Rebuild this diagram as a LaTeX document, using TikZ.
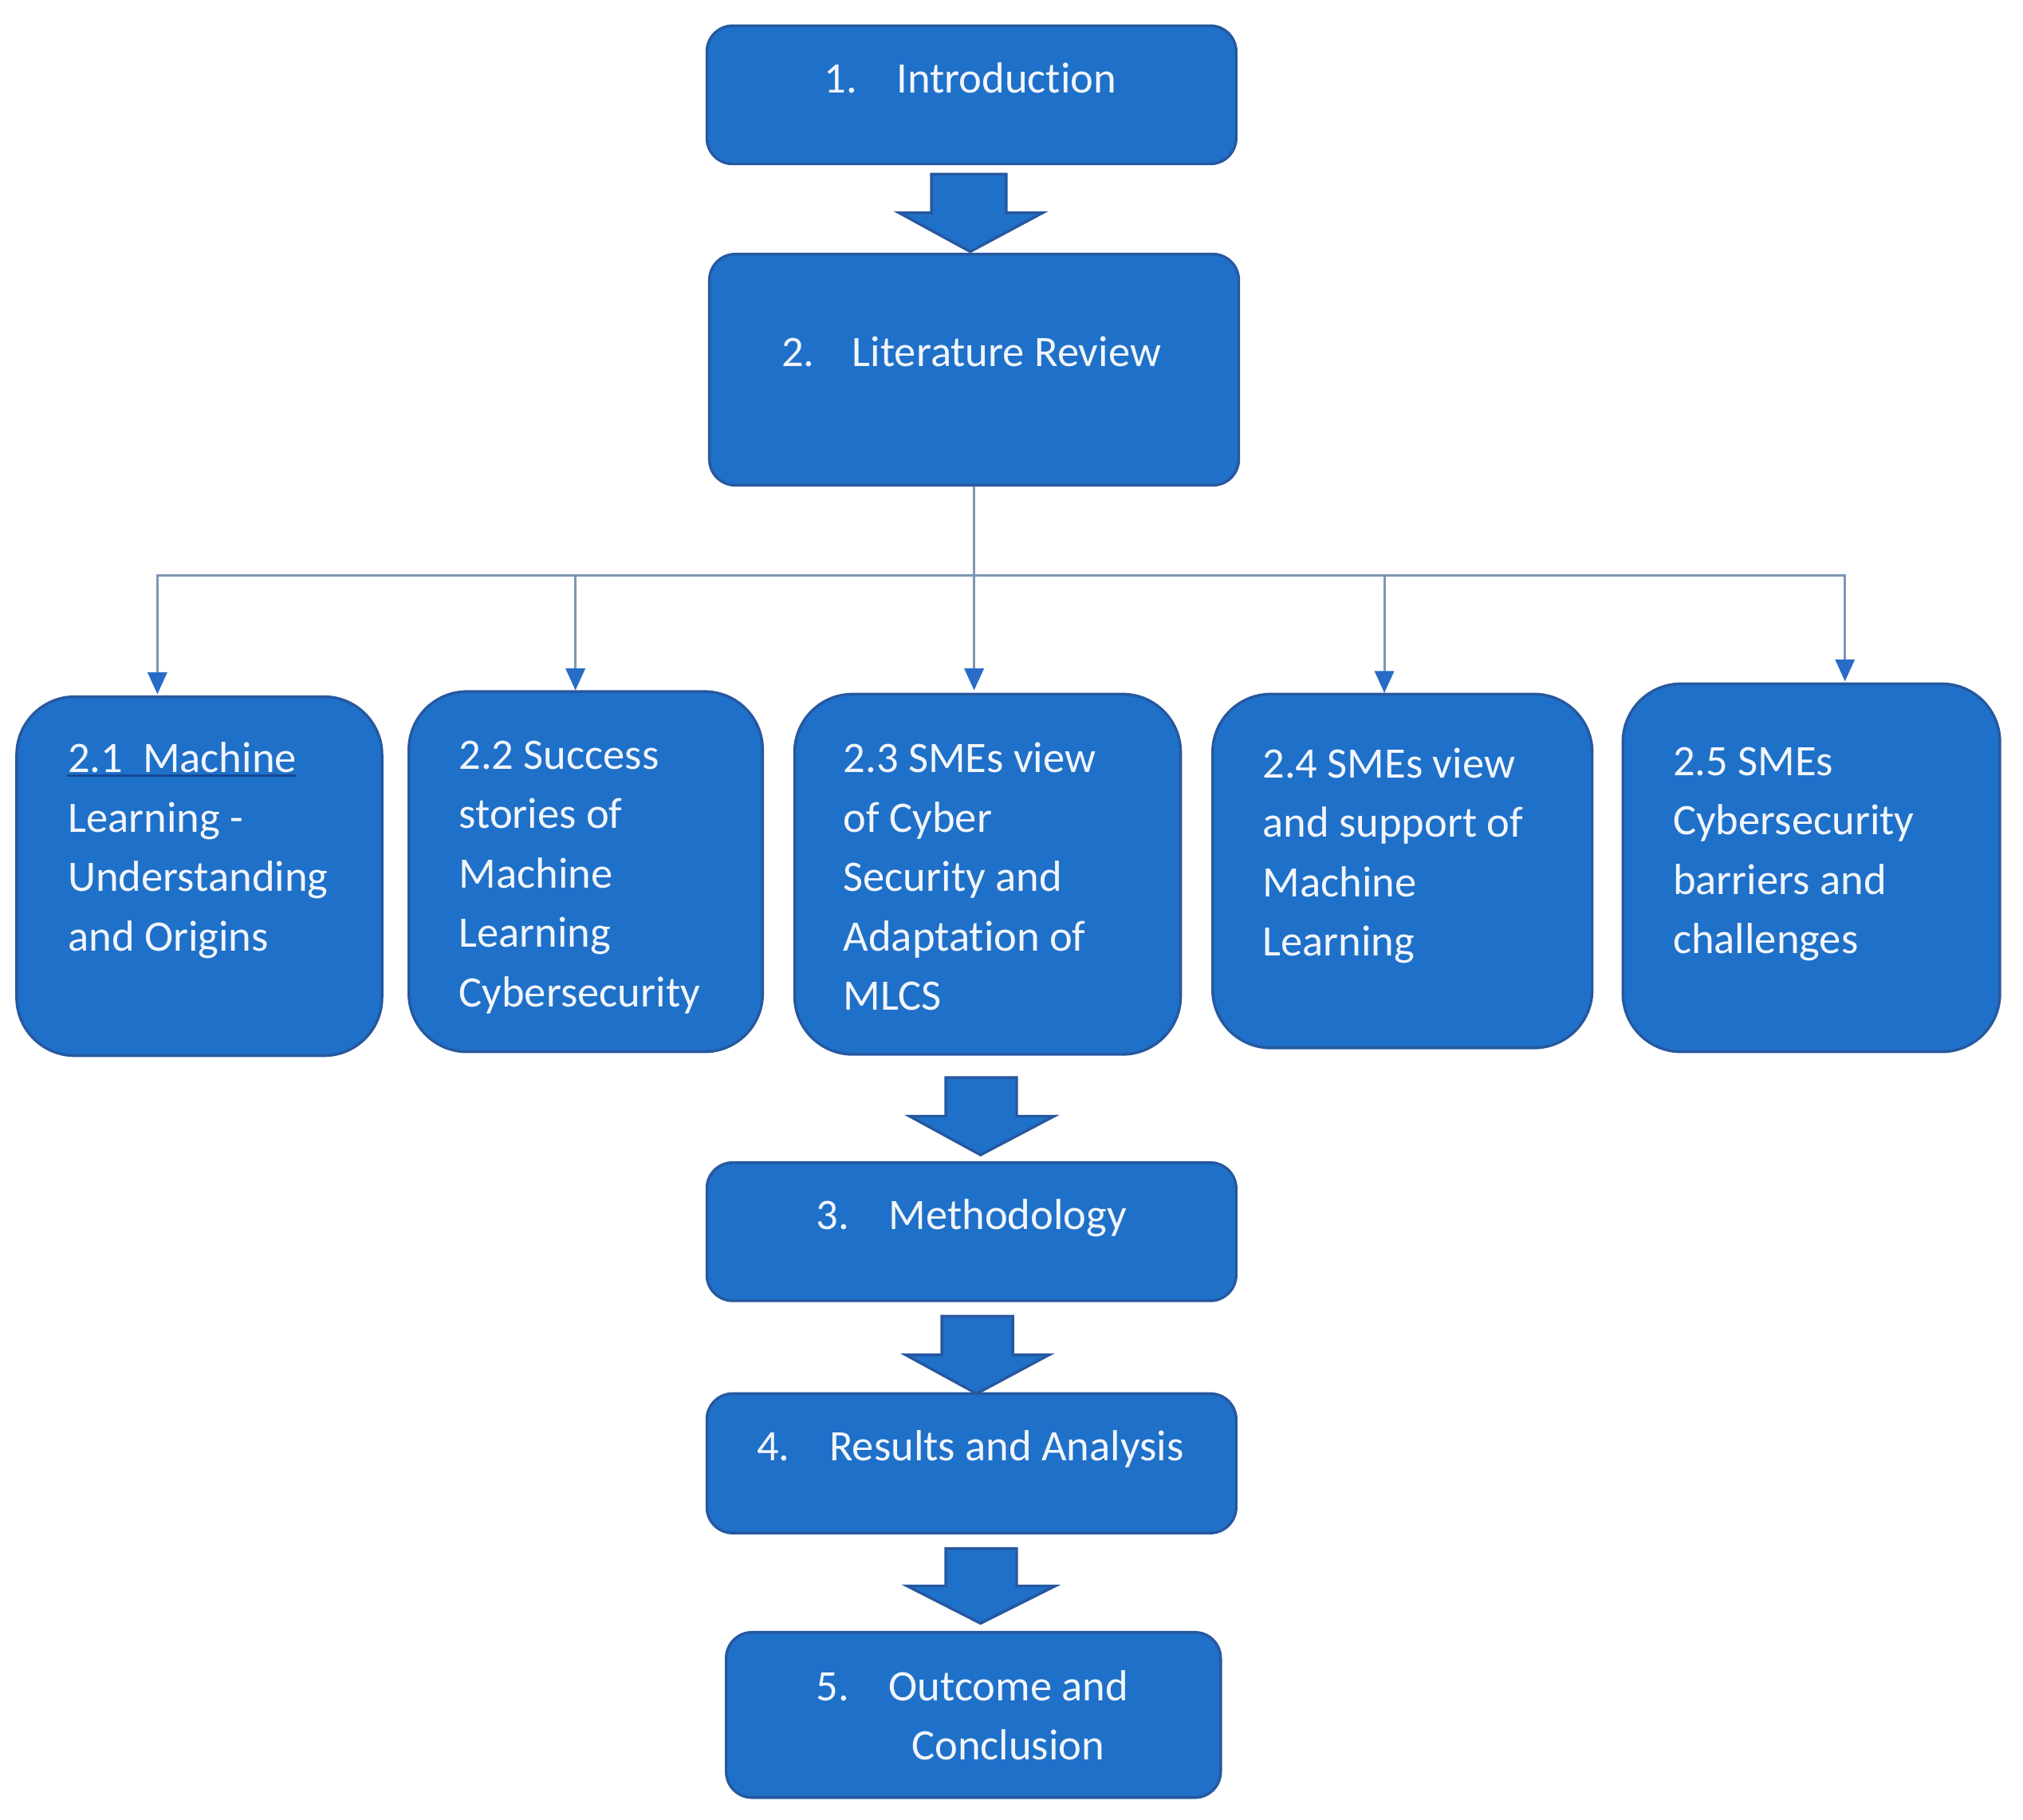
\documentclass[tikz,border=0pt]{standalone}
\usepackage{fontspec}
\setmainfont{Carlito}[Ligatures=NoCommon]
\usetikzlibrary{arrows.meta}
\definecolor{boxfill}{RGB}{31,112,200}
\definecolor{boxline}{RGB}{38,88,160}
\definecolor{connline}{RGB}{125,150,180}
\definecolor{tipblue}{RGB}{40,108,200}
\definecolor{txtwhite}{RGB}{242,246,252}
\definecolor{ulcol}{RGB}{22,72,150}
\newcommand{\fl}{\rule{0pt}{10pt}}
\newcommand{\num}[1]{\makebox[16pt][l]{#1}}
\tikzset{
  mainbox/.style={draw=boxline, fill=boxfill, line width=0.6pt, rounded corners=0.2cm, inner sep=0pt},
  subbox/.style={draw=boxline, fill=boxfill, line width=0.6pt, rounded corners=0.45cm, inner sep=0pt},
  txt/.style={anchor=north west, inner sep=0pt, align=left, text=txtwhite, font=\fontsize{9.59pt}{13.09pt}\selectfont},
  blk/.style={draw=boxline, fill=boxfill, line width=0.6pt, line join=miter},
  conn/.style={draw=connline, line width=0.5pt},
  connarrow/.style={conn, -{Triangle[length=0.17cm, width=0.15cm, color=tipblue]}}
}
\begin{document}
\begin{tikzpicture}[x=0.01cm, y=-0.01cm]
\useasboundingbox (0,0) rectangle (1568,1410);

% main boxes
\node[mainbox, minimum width=4.10cm, minimum height=1.07cm] (intro) at (753,73.5) {};
\node[mainbox, minimum width=4.10cm, minimum height=1.79cm] (lit) at (755,286.5) {};
\node[mainbox, minimum width=4.10cm, minimum height=1.07cm] (meth) at (753,954.5) {};
\node[mainbox, minimum width=4.10cm, minimum height=1.08cm] (res) at (753,1134) {};
\node[mainbox, minimum width=3.83cm, minimum height=1.28cm] (out) at (754.5,1329) {};

% sub boxes
\node[subbox, minimum width=2.83cm, minimum height=2.78cm] (b21) at (154.5,679) {};
\node[subbox, minimum width=2.74cm, minimum height=2.79cm] (b22) at (454,675.5) {};
\node[subbox, minimum width=2.99cm, minimum height=2.79cm] (b23) at (765.5,677.5) {};
\node[subbox, minimum width=2.94cm, minimum height=2.74cm] (b24) at (1087,675) {};
\node[subbox, minimum width=2.92cm, minimum height=2.85cm] (b25) at (1404,672.5) {};

% texts
\node[txt] (t1) at (638,36) {\fl\num{1.}Introduction};
\node[txt] (t2) at (605,248) {\fl\makebox[15.6pt][l]{2.}Literature Review};
\node[txt] (t3) at (632,917) {\fl\num{3.}Methodology};
\node[txt] (t4) at (586,1096) {\fl\num{4.}Results and Analysis};
\node[txt] (t5) at (632,1282) {\fl\num{5.}Outcome and\\\hspace*{21pt}Conclusion};

\node[txt] (t21) at (52,563) {\fl 2.1\ \ Machine\\Learning -\\Understanding\\and Origins};
\node[txt] (t22) at (355,560) {\fl 2.2 Success\\stories of\\Machine\\Learning\\Cybersecurity};
\node[txt] (t23) at (653,563) {\fl 2.3 SMEs view\\of Cyber\\Security and\\Adaptation of\\MLCS};
\node[txt] (t24) at (978,567) {\fl 2.4 SMEs view\\and support of\\Machine\\Learning};
\node[txt] (t25) at (1296,565) {\fl 2.5 SMEs\\Cybersecurity\\barriers and\\challenges};
\draw[ulcol, line width=0.4pt] (52,601) -- (229,601);

% block arrows
\draw[blk] (722,135) -- (780,135) -- (780,165) -- (808,165) -- (752,195) -- (697,165) -- (722,165) -- cycle;
\draw[blk] (733,835) -- (788,835) -- (788,865) -- (817,865) -- (760,895) -- (705,865) -- (733,865) -- cycle;
\draw[blk] (730,1020) -- (785,1020) -- (785,1050) -- (813,1050) -- (757,1080) -- (702,1050) -- (730,1050) -- cycle;
\draw[blk] (733,1200) -- (788,1200) -- (788,1229) -- (818,1229) -- (760,1258) -- (703,1229) -- (733,1229) -- cycle;

% elbow connectors
\coordinate (a21) at (122,538);
\coordinate (a22) at (446,535);
\coordinate (a23) at (755,535);
\coordinate (a24) at (1073,537);
\coordinate (a25) at (1430,528);
\coordinate (hub) at (755,446);
\draw[conn] (lit.south) -- (hub);
\draw[connarrow] (hub) -| (a21);
\draw[connarrow] (hub) -| (a22);
\draw[connarrow] (hub) -- (a23);
\draw[connarrow] (hub) -| (a24);
\draw[connarrow] (hub) -| (a25);
\end{tikzpicture}
\end{document}
